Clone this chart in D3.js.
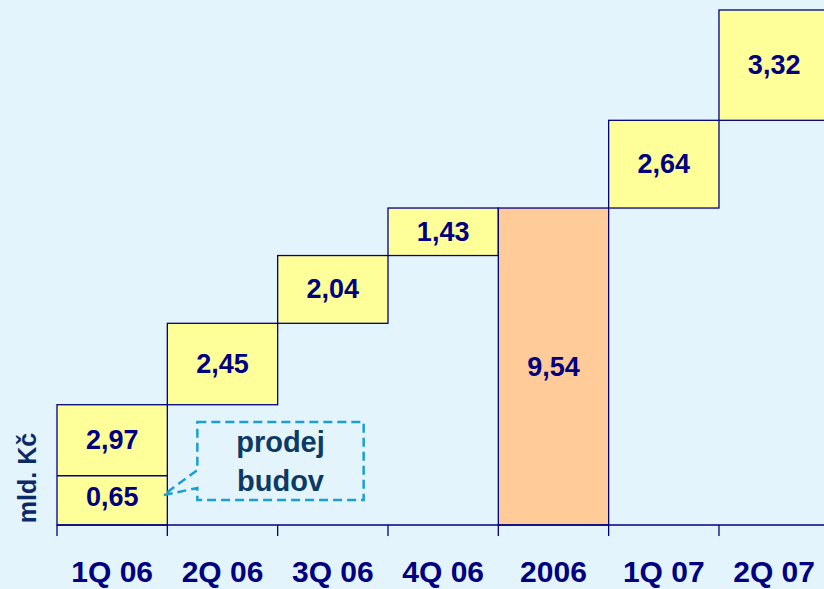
<!DOCTYPE html>
<html>
<head>
<meta charset="utf-8">
<script src="https://cdn.jsdelivr.net/npm/d3@7"></script>
<style>
  body { margin: 0; background: #E3F4FC; }
  svg { display: block; }
  text { font-family: Arial, "Liberation Sans", sans-serif; font-weight: bold; }
</style>
</head>
<body>
<svg></svg>
<script>
var screen = {width: 824, height: 589}
var margins = {top: 10, left: 57, bottom: 64}

// data
var categories = ["1Q 06", "2Q 06", "3Q 06", "4Q 06", "2006", "1Q 07", "2Q 07"]
var values = [2.97, 2.45, 2.04, 1.43, 9.54, 2.64, 3.32]
var kinds = ["q", "q", "q", "q", "total", "q", "q"]
var valueLabels = ["2,97", "2,45", "2,04", "1,43", "9,54", "2,64", "3,32"]
var buildingSale = 0.65
var buildingSaleLabel = "0,65"
var splitAt = 1.48   // where the divider line in the first bar sits (as drawn)
var yMax = 15.5

var svg = d3.select("svg")
    .attr("width", screen.width)
    .attr("height", screen.height)

var baseY = screen.height - margins.bottom
var bandW = 110.33

var xScale = d3.scaleBand()
    .domain(categories)
    .range([margins.left, margins.left + bandW * categories.length])
    .padding(0)

var yScale = d3.scaleLinear()
    .domain([0, yMax])
    .range([baseY, margins.top])

// build waterfall steps
var running = 0
var steps = categories.map(function (c, i) {
    var v = values[i]
    if (i == 0) v = values[i] + buildingSale
    var s
    if (kinds[i] == "total") {
        s = {cat: c, lo: 0, hi: values[i], kind: "total", label: valueLabels[i]}
    } else {
        s = {cat: c, lo: running, hi: running + v, kind: "q", label: valueLabels[i]}
        running += v
    }
    return s
})

var navy = "#000080"

var bars = svg.append("g").attr("id", "bars")

bars.selectAll("rect")
    .data(steps)
    .enter()
    .append("rect")
    .attr("x", function (d) { return xScale(d.cat) })
    .attr("y", function (d) { return yScale(d.hi) })
    .attr("width", xScale.bandwidth())
    .attr("height", function (d) { return yScale(d.lo) - yScale(d.hi) })
    .attr("fill", function (d) { return d.kind == "total" ? "#FFCC99" : "#FFFF99" })
    .attr("stroke", navy)
    .attr("stroke-width", 1.3)

// divider in first bar
bars.append("line")
    .attr("x1", xScale(categories[0]))
    .attr("x2", xScale(categories[0]) + xScale.bandwidth())
    .attr("y1", yScale(splitAt))
    .attr("y2", yScale(splitAt))
    .attr("stroke", navy)
    .attr("stroke-width", 1.5)

// value labels
bars.selectAll(".vlabel")
    .data(steps)
    .enter()
    .append("text")
    .attr("class", "vlabel")
    .attr("x", function (d) { return xScale(d.cat) + xScale.bandwidth() / 2 })
    .attr("y", function (d, i) {
        var lo = i == 0 ? splitAt : d.lo
        return (yScale(lo) + yScale(d.hi)) / 2 + 9
    })
    .attr("text-anchor", "middle")
    .attr("font-size", 27)
    .attr("fill", navy)
    .text(function (d) { return d.label })

bars.append("text")
    .attr("x", xScale(categories[0]) + xScale.bandwidth() / 2)
    .attr("y", (yScale(0) + yScale(splitAt)) / 2 + 6)
    .attr("text-anchor", "middle")
    .attr("font-size", 27)
    .attr("fill", navy)
    .text(buildingSaleLabel)

// x axis
var axis = svg.append("g").attr("id", "xAxis")
axis.append("line")
    .attr("x1", margins.left)
    .attr("x2", screen.width)
    .attr("y1", baseY)
    .attr("y2", baseY)
    .attr("stroke", navy)
    .attr("stroke-width", 1.5)

var tickX = categories.map(function (c) { return xScale(c) })
axis.selectAll(".tick")
    .data(tickX)
    .enter()
    .append("line")
    .attr("class", "tick")
    .attr("x1", function (d) { return d })
    .attr("x2", function (d) { return d })
    .attr("y1", baseY)
    .attr("y2", baseY + 11)
    .attr("stroke", navy)
    .attr("stroke-width", 1.3)

axis.selectAll(".clabel")
    .data(categories)
    .enter()
    .append("text")
    .attr("class", "clabel")
    .attr("x", function (c) { return xScale(c) + xScale.bandwidth() / 2 })
    .attr("y", baseY + 57)
    .attr("text-anchor", "middle")
    .attr("font-size", 30)
    .attr("fill", navy)
    .text(function (c) { return c })

// y axis title
svg.append("text")
    .attr("transform", "translate(" + 36 + "," + (baseY - 47) + ")rotate(-90)")
    .attr("text-anchor", "middle")
    .attr("font-size", 25)
    .attr("fill", "#0B2A66")
    .text("mld. Kč")

// callout "prodej budov"
var cx0 = xScale(categories[1]) + 30
var cx1 = xScale(categories[2]) + 86
var cy0 = yScale(3.1)
var cy1 = yScale(0.75)
var tipX = xScale(categories[1]) - 4
var tipY = yScale(0.9)
var callout = svg.append("g").attr("id", "callout")
callout.append("path")
    .attr("d", "M" + cx0 + "," + cy0 + "H" + cx1 + "V" + cy1 + "H" + cx0 +
        "V" + (cy1 - 12) + "L" + tipX + "," + tipY + "L" + cx0 + "," + (cy1 - 30) + "Z")
    .attr("fill", "none")
    .attr("stroke", "#1A9FD0")
    .attr("stroke-width", 2.5)
    .attr("stroke-dasharray", "9,5")

callout.selectAll("text")
    .data(["prodej", "budov"])
    .enter()
    .append("text")
    .attr("x", (cx0 + cx1) / 2)
    .attr("y", function (d, i) { return cy0 + 30 + i * 39 })
    .attr("text-anchor", "middle")
    .attr("font-size", 29)
    .attr("fill", "#0B3A66")
    .text(function (d) { return d })
</script>
</body>
</html>
